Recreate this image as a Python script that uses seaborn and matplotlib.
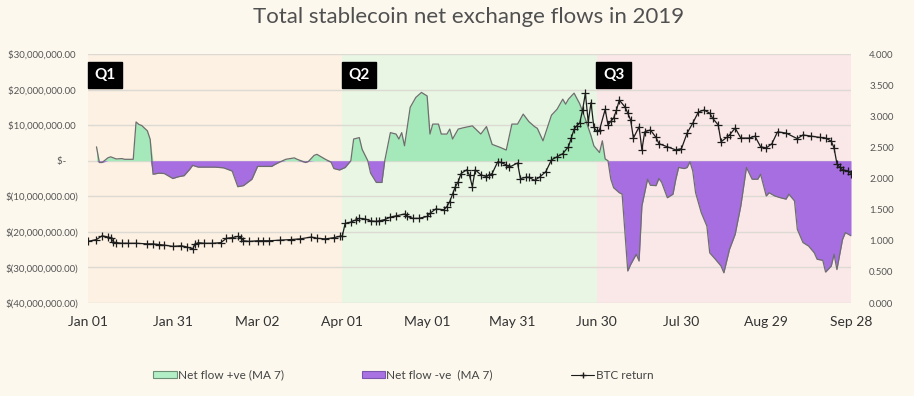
import numpy as np
import pandas as pd
import matplotlib
matplotlib.use("Agg")
import matplotlib.pyplot as plt
import matplotlib.dates as mdates
import matplotlib.transforms as mtransforms
from matplotlib.patches import Patch
from matplotlib.lines import Line2D
from matplotlib.ticker import FuncFormatter, FixedLocator
import seaborn as sns

# ---------------- data ----------------
# days since 2019-01-01 and 7-day MA net flow in millions of USD
flow_days = [3, 4, 5, 7, 8, 10, 12, 13, 16, 17, 18, 19, 21, 22, 23, 25, 27, 30, 32, 34,
             36, 37, 39, 45, 48, 51, 53, 55, 58, 60, 65, 66, 68, 70, 73, 74, 77, 78, 80, 81,
             84, 86, 87, 89, 91, 93, 94, 96, 97, 99, 100, 102, 104, 105, 107, 109, 110, 111, 112, 114,
             116, 118, 120, 121, 122, 124, 125, 127, 128, 129, 131, 133, 136, 139, 141, 143, 146, 148, 150, 152,
             154, 156, 158, 159, 161, 164, 166, 168, 169, 170, 172, 174, 176, 178, 179, 181, 182, 183, 184, 185,
             186, 188, 189, 190, 191, 192, 194, 195, 196, 198, 199, 201, 202, 203, 205, 207, 208, 209, 211, 212,
             213, 214, 215, 217, 219, 220, 222, 224, 225, 227, 229, 231, 233, 235, 237, 238, 240, 241, 243, 245,
             247, 248, 250, 251, 253, 255, 257, 258, 260, 261, 263, 264, 265, 267, 268, 270]
flow_musd = [3.9, -0.5, -0.5, 0.8, 1.1, 0.5, 0.6, 0.4, 0.4, 10.9, 10.2, 9.9, 8.4, 6.0, -3.8, -3.5, -3.6, -5.0, -4.5, -4.2,
             -2.4, -1.3, -1.8, -1.8, -2.0, -2.9, -7.3, -7.0, -5.2, -1.6, -1.6, -1.1, -0.3, 0.4, 0.8, 0.4, -0.5, -0.2, 1.5, 1.8,
             0.4, -0.4, -2.2, -2.6, -1.9, 0.0, 6.1, 6.5, 3.2, 0.0, -3.5, -6.1, -6.1, 0.0, 7.9, 7.5, 6.1, 7.9, 4.2, 15.0,
             17.8, 19.2, 18.2, 7.5, 10.3, 10.3, 7.5, 7.5, 8.9, 6.1, 8.9, 9.3, 9.8, 7.5, 9.6, 4.6, 3.7, 3.0, 10.3, 10.3,
             13.1, 11.0, 9.6, 9.1, 5.6, 12.8, 14.5, 17.3, 15.9, 17.3, 19.0, 16.0, 11.7, 7.0, 4.2, 2.3, 5.6, 0.5, 0.0, -5.2,
             -7.6, -9.0, -9.4, -20.2, -31.0, -29.2, -26.3, -28.2, -12.7, -5.2, -6.9, -7.0, -5.0, -6.1, -10.4, -9.4, -5.2, -1.9, -2.2, -1.9,
             -0.3, -2.9, -9.0, -14.6, -18.4, -25.9, -27.7, -29.6, -31.5, -24.9, -20.7, -12.7, -1.9, -5.2, -5.2, -3.8, -9.9, -9.0, -9.9, -10.4,
             -10.8, -9.4, -11.3, -19.3, -23.0, -24.0, -25.9, -27.7, -28.0, -31.3, -29.6, -26.3, -30.6, -22.1, -20.2, -21.1]

# BTC return (price relative to 1 Jan 2019)
btc_days = [0, 3, 5, 7, 8, 9, 10, 12, 14, 17, 21, 23, 25, 27, 30, 33, 35, 37, 38, 39,
            41, 44, 47, 49, 51, 53, 54, 55, 57, 60, 62, 64, 68, 72, 75, 79, 81, 84, 87, 89,
            90, 91, 93, 95, 96, 98, 100, 102, 103, 105, 107, 109, 112, 113, 115, 117, 120, 121, 123, 126,
            127, 128, 129, 130, 131, 132, 134, 135, 136, 137, 139, 141, 142, 143, 145, 146, 148, 149, 152, 153,
            155, 156, 158, 160, 162, 164, 166, 168, 170, 171, 172, 173, 174, 175, 176, 177, 178, 179, 180, 181,
            183, 184, 185, 186, 187, 188, 190, 191, 192, 193, 195, 196, 197, 199, 201, 202, 205, 208, 210, 212,
            214, 216, 218, 220, 221, 223, 224, 226, 227, 229, 231, 234, 236, 238, 240, 242, 244, 247, 251, 253,
            256, 259, 261, 263, 264, 265, 266, 267, 269, 270]
btc_return = [0.99, 1.02, 1.08, 1.06, 1.05, 0.98, 0.97, 0.96, 0.96, 0.96, 0.95, 0.95, 0.94, 0.93, 0.91, 0.92, 0.90, 0.87, 0.95, 0.97,
              0.96, 0.96, 0.97, 1.04, 1.05, 1.07, 1.05, 1.00, 0.99, 1.00, 1.00, 1.00, 1.01, 1.02, 1.03, 1.06, 1.04, 1.03, 1.05, 1.07,
              1.08, 1.28, 1.30, 1.34, 1.36, 1.35, 1.32, 1.31, 1.32, 1.34, 1.38, 1.40, 1.43, 1.39, 1.36, 1.36, 1.39, 1.44, 1.51, 1.50,
              1.55, 1.63, 1.75, 1.87, 1.95, 2.08, 2.14, 2.05, 1.87, 2.14, 2.06, 2.03, 2.06, 2.08, 2.27, 2.26, 2.22, 2.18, 2.25, 2.00,
              2.02, 2.02, 1.97, 2.03, 2.11, 2.30, 2.35, 2.40, 2.51, 2.65, 2.79, 2.85, 2.89, 3.10, 3.37, 2.91, 3.22, 2.82, 2.76, 2.78,
              3.11, 2.86, 2.92, 2.97, 3.10, 3.26, 3.15, 3.05, 2.94, 2.65, 2.83, 2.46, 2.75, 2.78, 2.66, 2.56, 2.51, 2.46, 2.48, 2.73,
              2.89, 3.07, 3.10, 3.05, 2.97, 2.86, 2.59, 2.66, 2.70, 2.81, 2.65, 2.65, 2.68, 2.51, 2.49, 2.56, 2.75, 2.73, 2.64, 2.70,
              2.68, 2.66, 2.65, 2.60, 2.49, 2.24, 2.18, 2.14, 2.12, 2.08]

tick_days = [0, 30, 60, 90, 120, 150, 180, 210, 240, 270]
quarter_labels = ["Q1", "Q2", "Q3"]
quarter_start_days = [0, 90, 180]
quarter_end_days = [90, 180, 270]
left_ticks_musd = [30, 20, 10, 0, -10, -20, -30, -40]
right_ticks = [0.0, 0.5, 1.0, 1.5, 2.0, 2.5, 3.0, 3.5, 4.0]
title = "Total stablecoin net exchange flows in 2019"
legend_labels = ["Net flow +ve (MA 7)", "Net flow -ve  (MA 7)", "BTC return"]

# ---------------- styling ----------------
sns.set_theme(style="white")
plt.rcParams["font.family"] = ["Lato", "DejaVu Sans"]

FIG_BG = "#fcf8ee"
Q_COLORS = ["#fcf1e2", "#e9f6e4", "#fae7e7"]
GREEN = "#a5e8b9"
PURPLE = "#a66ee0"
OUTLINE = "#6e6e6e"

start = pd.Timestamp("2019-01-01")
flow_df = pd.DataFrame({
    "date": start + pd.to_timedelta(flow_days, unit="D"),
    "flow": np.array(flow_musd) * 1e6,
})
btc_df = pd.DataFrame({
    "date": start + pd.to_timedelta(btc_days, unit="D"),
    "btc": btc_return,
})

fig = plt.figure(figsize=(9.14, 3.96), dpi=100, facecolor=FIG_BG)
ax = fig.add_axes([0.0963, 0.2348, 0.8348, 0.6288])
ax.set_facecolor(FIG_BG)

# quarter shading
for s, e, c in zip(quarter_start_days, quarter_end_days, Q_COLORS):
    ax.axvspan(start + pd.Timedelta(days=s), start + pd.Timedelta(days=e),
               color=c, lw=0, zorder=0.2)

ax.set_axisbelow(True)
ax.yaxis.grid(True, color="#dddad3", lw=1.0, zorder=0.5)
ax.xaxis.grid(False)

pos = np.maximum(flow_df["flow"].values, 0)
neg = np.minimum(flow_df["flow"].values, 0)
ax.fill_between(flow_df["date"], pos, 0, color=GREEN, lw=0, zorder=2)
ax.fill_between(flow_df["date"], neg, 0, color=PURPLE, lw=0, zorder=2)
sns.lineplot(data=flow_df, x="date", y="flow", ax=ax, color=OUTLINE, lw=0.9, zorder=3)

ax.set_ylim(-40e6, 30e6)
ax.set_xlim(start, start + pd.Timedelta(days=270))
ax.yaxis.set_major_locator(FixedLocator([v * 1e6 for v in left_ticks_musd]))


def money(v, _pos):
    m = int(round(v))
    if m == 0:
        return "$-     "
    if m > 0:
        return "${:,.2f} ".format(m)
    return "$({:,.2f})".format(-m)


ax.yaxis.set_major_formatter(FuncFormatter(money))
ax.xaxis.set_major_locator(FixedLocator(mdates.date2num(start + pd.to_timedelta(tick_days, unit="D"))))
ax.xaxis.set_major_formatter(mdates.DateFormatter("%b %d"))
ax.tick_params(axis="y", labelsize=7, colors="#555555", length=0, pad=7)
ax.tick_params(axis="x", labelsize=10, colors="#333333", length=0, pad=9)
ax.set_xlabel("")
ax.set_ylabel("")
for sp in ax.spines.values():
    sp.set_visible(False)

# BTC return on secondary axis
ax2 = ax.twinx()
sns.lineplot(data=btc_df, x="date", y="btc", ax=ax2, color="#1c1c1c", lw=0.9,
             marker="+", markersize=6, markeredgewidth=0.9, markeredgecolor="#1c1c1c", zorder=4)
ax2.set_ylim(0, 4)
ax2.yaxis.set_major_locator(FixedLocator(right_ticks))
ax2.yaxis.set_major_formatter(FuncFormatter(lambda v, p: "{:.3f}".format(v)))
ax2.tick_params(axis="y", labelsize=7, colors="#555555", length=0, pad=13)
ax2.set_ylabel("")
ax2.set_xlabel("")
for sp in ax2.spines.values():
    sp.set_visible(False)

# quarter labels
trans = mtransforms.blended_transform_factory(ax2.transData, ax2.transAxes)
for lab, s in zip(quarter_labels, quarter_start_days):
    ax2.text(mdates.date2num(start + pd.Timedelta(days=s + 2.2)), 0.916, lab, transform=trans,
             ha="left", va="center", color="white", fontsize=11, fontweight="bold",
             bbox=dict(boxstyle="square,pad=0.42", fc="black", ec="black"), zorder=6)

fig.text(0.513, 0.957, title, ha="center", va="center", fontsize=16, color="#505050")

handles = [
    Patch(facecolor="#b3efc6", edgecolor="#6d8f74", lw=0.8),
    Patch(facecolor="#a872e3", edgecolor="#7d55ad", lw=0.8),
    Line2D([0], [0], color="#1c1c1c", lw=0.8, marker="+", markersize=5),
]
fig.legend(handles, legend_labels, loc="center", bbox_to_anchor=(0.441, 0.053), ncol=3,
           frameon=False, fontsize=8.5, handlelength=2.0, handleheight=0.6,
           handletextpad=0.1, columnspacing=6.6, labelcolor="#444444")

fig.savefig("out.png", dpi=100, facecolor=FIG_BG)
